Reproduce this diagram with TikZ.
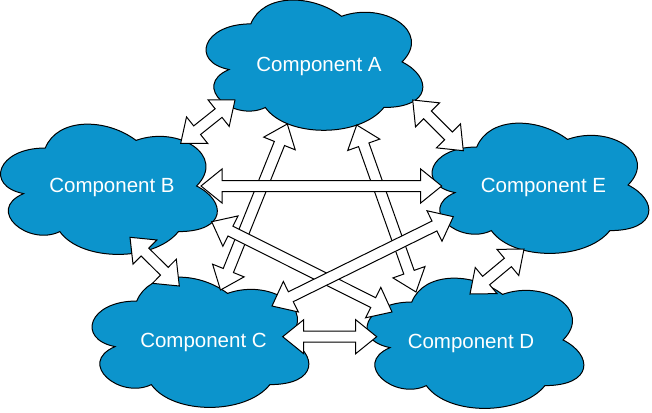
\documentclass[tikz,border=0pt]{standalone}
\usepackage{fontspec}
\setmainfont{Liberation Sans}
\usetikzlibrary{calc}
\definecolor{cloudblue}{RGB}{12,148,204}
\tikzset{
  cloudstyle/.style={fill=cloudblue, draw=black, line width=1pt},
  blockstyle/.style={fill=white, draw=black, line width=1pt, line join=miter},
  comptext/.style={text=white, font=\fontsize{20.5}{24}\selectfont, inner sep=0pt}
}
\newcommand\cloudpath{%
  \path[cloudstyle] (0.25,0.25) .. controls (0.05,0.25) and (0,0.5) .. (0.16,0.55)
    .. controls (0,0.66) and (0.18,0.9) .. (0.31,0.8)
    .. controls (0.4,1) and (0.7,1) .. (0.8,0.8)
    .. controls (1,0.8) and (1,0.6) .. (0.875,0.5)
    .. controls (1,0.3) and (0.8,0.1) .. (0.625,0.2)
    .. controls (0.5,0.05) and (0.3,0.05) .. (0.25,0.25) -- cycle;}
\newcommand\blockarrow[2]{%
  \coordinate (ba1) at ($(#1)!21pt!(#2)$);
  \coordinate (ba2) at ($(#2)!21pt!(#1)$);
  \draw[blockstyle] (#1) -- ($(ba1)!17pt!90:(#2)$) -- ($(ba1)!5.5pt!90:(#2)$)
    -- ($(ba2)!5.5pt!-90:(#1)$) -- ($(ba2)!17pt!-90:(#1)$) -- (#2)
    -- ($(ba2)!17pt!90:(#1)$) -- ($(ba2)!5.5pt!90:(#1)$)
    -- ($(ba1)!5.5pt!-90:(#2)$) -- ($(ba1)!17pt!-90:(#2)$) -- cycle;}
\begin{document}
\begin{tikzpicture}[x=1pt,y=-1pt]
\useasboundingbox (0,0) rectangle (652,412);
% clouds
\begin{scope}[shift={(190.3,-14.1)},x=242pt,y=-152pt]\cloudpath\end{scope}
\begin{scope}[shift={(-15.2,110)},x=242pt,y=-152pt]\cloudpath\end{scope}
\begin{scope}[shift={(416.3,109)},x=242pt,y=-152pt]\cloudpath\end{scope}
\begin{scope}[shift={(76.3,263)},x=242pt,y=-152pt]\cloudpath\end{scope}
\begin{scope}[shift={(351.3,264)},x=242pt,y=-152pt]\cloudpath\end{scope}
% labels
\node[comptext] (A) at (319,66) {Component A};
\node[comptext] (B) at (112,187) {Component B};
\node[comptext] (E) at (543.5,187.5) {Component E};
\node[comptext] (C) at (203.5,342) {Component C};
\node[comptext] (D) at (471,343) {Component D};
% arrow end points
\coordinate (ab1) at (180.7,143.3); \coordinate (ab2) at (235,100);
\coordinate (ae1) at (412.7,100);   \coordinate (ae2) at (463.3,150.7);
\coordinate (bc1) at (130,237.3);   \coordinate (bc2) at (179.3,286);
\coordinate (ed1) at (524,249);     \coordinate (ed2) at (470,294);
\coordinate (cd1) at (282.7,336.7); \coordinate (cd2) at (376.7,336.7);
\coordinate (be1) at (201,186);     \coordinate (be2) at (441.7,186);
\coordinate (ac1) at (287.3,124);   \coordinate (ac2) at (220.5,290);
\coordinate (ad1) at (356.7,125);   \coordinate (ad2) at (416,292);
\coordinate (bd1) at (211.7,221.7); \coordinate (bd2) at (392,312);
\coordinate (ce1) at (272,306);     \coordinate (ce2) at (453.3,216.7);
% arrows
\blockarrow{ac1}{ac2}
\blockarrow{ad1}{ad2}
\blockarrow{bd1}{bd2}
\blockarrow{ce1}{ce2}
\blockarrow{be1}{be2}
\blockarrow{ab1}{ab2}
\blockarrow{ae1}{ae2}
\blockarrow{bc1}{bc2}
\blockarrow{ed1}{ed2}
\blockarrow{cd1}{cd2}
\end{tikzpicture}
\end{document}
